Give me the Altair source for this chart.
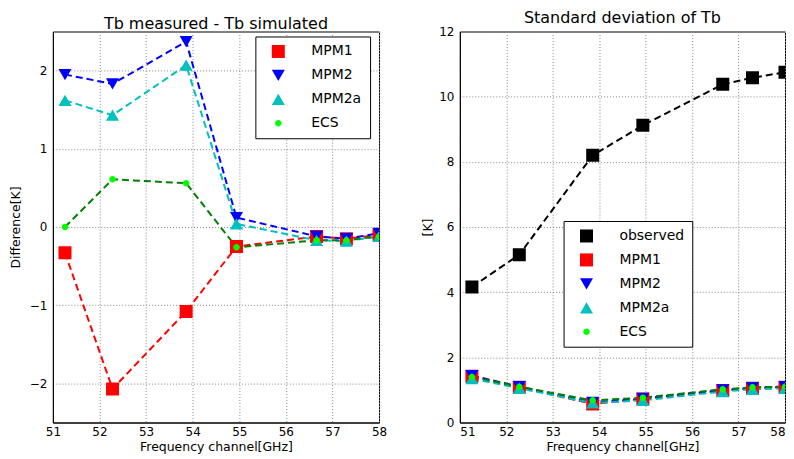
import altair as alt
import pandas as pd

freq = [51.26, 52.28, 53.86, 54.94, 56.66, 57.30, 58.00]

# Left panel: Tb measured - Tb simulated [K]
diff_mpm1 = [-0.33, -2.07, -1.08, -0.25, -0.12, -0.15, -0.10]
diff_mpm2 = [1.95, 1.83, 2.37, 0.12, -0.12, -0.15, -0.08]
diff_mpm2a = [1.62, 1.43, 2.07, 0.04, -0.17, -0.18, -0.12]
diff_ecs = [0.00, 0.61, 0.56, -0.26, -0.17, -0.17, -0.12]

# Right panel: standard deviation of Tb [K]
std_obs = [4.16, 5.15, 8.20, 9.12, 10.38, 10.58, 10.75]
std_mpm1 = [1.42, 1.08, 0.57, 0.72, 0.98, 1.05, 1.08]
std_mpm2 = [1.44, 1.10, 0.62, 0.74, 1.00, 1.07, 1.10]
std_mpm2a = [1.35, 1.05, 0.60, 0.68, 0.95, 1.02, 1.05]
std_ecs = [1.40, 1.10, 0.68, 0.76, 1.02, 1.08, 1.10]

left_series = ["MPM1", "MPM2", "MPM2a", "ECS"]
right_series = ["observed", "MPM1", "MPM2", "MPM2a", "ECS"]

SMALL_CIRCLE = "M0.5,0A0.5,0.5 0 1,1 -0.5,0A0.5,0.5 0 1,1 0.5,0Z"
style = {
    "observed": ("black", "black", "square"),
    "MPM1": ("#ff0000", "#ff0000", "square"),
    "MPM2": ("#0000ff", "#0000ff", "triangle-down"),
    "MPM2a": ("#00bfbf", "#00bfbf", "triangle-up"),
    "ECS": ("#008000", "#00ff00", SMALL_CIRCLE),
}


def make_df(series, values):
    rows = []
    for s, vals in zip(series, values):
        for f, v in zip(freq, vals):
            rows.append({"series": s, "line_key": "L_" + s, "freq": f, "val": v})
    return pd.DataFrame(rows)


def panel(df, series, title, ytitle, ydom, yvals, leg, w, ytitle_pad, flush):
    line_cols = [style[s][0] for s in series]
    fill_cols = [style[s][1] for s in series]
    shapes = [style[s][2] for s in series]
    x = alt.X("freq:Q", scale=alt.Scale(domain=[51, 58], nice=False, zero=False),
              axis=alt.Axis(values=list(range(51, 59)), title="Frequency channel[GHz]",
                            labelFlush=flush))
    y = alt.Y("val:Q", scale=alt.Scale(domain=ydom, nice=False, zero=False),
              axis=alt.Axis(values=yvals, title=ytitle, titlePadding=ytitle_pad))
    base = alt.Chart(df)
    lines = base.mark_line(strokeDash=[7, 4], strokeWidth=2, clip=True).encode(
        x=x, y=y,
        stroke=alt.Stroke("line_key:N",
                          scale=alt.Scale(domain=["L_" + s for s in series], range=line_cols),
                          legend=None),
        order=alt.Order("freq:Q"),
    )
    pts = base.mark_point(filled=True, opacity=1, strokeWidth=0, clip=True, size=170).encode(
        x=x, y=y,
        fill=alt.Fill("series:N", scale=alt.Scale(domain=series, range=fill_cols), legend=leg),
        shape=alt.Shape("series:N", scale=alt.Scale(domain=series, range=shapes), legend=leg),
    )
    return alt.layer(lines, pts).properties(
        width=w, height=392,
        title=alt.TitleParams(title, fontSize=16, font="DejaVu Sans", fontWeight="normal",
                              anchor="middle", frame="group", offset=0),
    )


left_df = make_df(left_series, [diff_mpm1, diff_mpm2, diff_mpm2a, diff_ecs])
right_df = make_df(right_series, [std_obs, std_mpm1, std_mpm2, std_mpm2a, std_ecs])

left_leg = alt.Legend(orient="none", legendX=203, legendY=5, symbolSize=170)
right_leg = alt.Legend(orient="none", legendX=104, legendY=190, symbolSize=170)

left = panel(left_df, left_series, "Tb measured - Tb simulated", "Difference[K]",
             [-2.5, 2.5], [-2, -1, 0, 1, 2], left_leg, 327, 7, False)
right = panel(right_df, right_series, "Standard deviation of Tb", "[K]",
              [0, 12], [0, 2, 4, 6, 8, 10, 12], right_leg, 326, 4, True)

chart = alt.hconcat(left, right, spacing=33).resolve_scale(
    stroke="independent", fill="independent", shape="independent"
).properties(
    padding={"left": 0, "top": 0, "right": 0, "bottom": 0}
).configure_view(
    stroke="black", strokeWidth=1
).configure_axis(
    labelFont="DejaVu Sans", labelFontSize=12, labelColor="black",
    titleFont="DejaVu Sans", titleFontSize=12.5, titleFontWeight="normal", titleColor="black",
    ticks=False, domainColor="black", labelPadding=6,
).configure_axisX(
    labelPadding=4, titlePadding=3,
    gridColor="#888", gridDash=[1, 2], gridWidth=1,
).configure_axisY(
    gridColor="#888", gridDash=[1, 2], gridWidth=1,
).configure_legend(
    strokeColor="black", fillColor="white", padding=8, cornerRadius=0,
    labelFont="DejaVu Sans", labelFontSize=14, labelColor="black",
    rowPadding=10, symbolOffset=8, labelOffset=26, symbolStrokeWidth=0,
    title=None,
)

chart.save("out.html", embed_options={"renderer": "svg", "actions": False})
